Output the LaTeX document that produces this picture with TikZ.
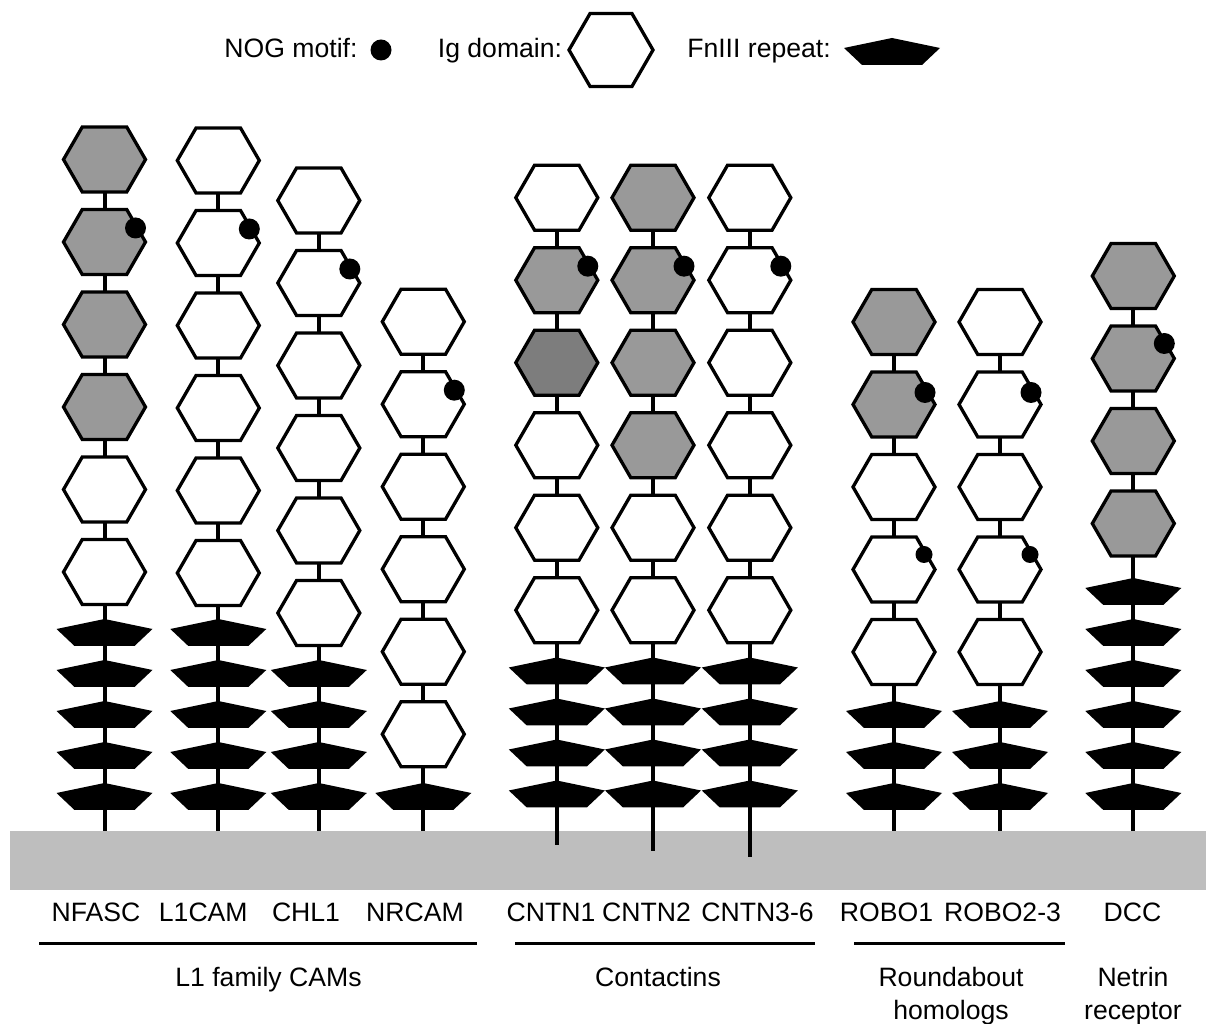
\documentclass[tikz,border=0pt]{standalone}
\usepackage{fontspec}
\setmainfont{Liberation Sans}
\usetikzlibrary{positioning,shapes.symbols,backgrounds}
\definecolor{hexgray}{RGB}{153,153,153}
\definecolor{hexdark}{RGB}{125,125,125}
\definecolor{memgray}{RGB}{190,190,190}

\begin{document}
\begin{tikzpicture}[x=1pt, y=1pt, node distance=17.5pt,
        IG/.style={signal, signal to=west and east, signal pointer angle=120, draw=black, line width=3.3pt, fill=white, minimum width=82pt, minimum height=65pt, inner sep=0pt, outer sep=0pt},
        IGG/.style={IG, fill=hexgray},
        IGD/.style={IG, fill=hexdark},
        NOG/.style={circle, fill=black, inner sep=0pt, minimum size=21pt},
        NOGS/.style={NOG, minimum size=17pt},
        FN/.pic={\fill (0,10) -- (48,0) -- (30,-17) -- (-30,-17) -- (-48,0) -- cycle;},
        STEM/.style={line width=4pt},
        LBL/.style={font=\fontsize{26.6}{33}\selectfont, inner sep=0pt, anchor=base, align=center},
        GRP/.style={line width=3pt},
    ]
    \useasboundingbox (0,0) rectangle (1206,1024);

    % legend
    \node[LBL] (keyNog) at (291,966) {NOG motif:};
    \node[NOG] (keyDot) at (381,974) {};
    \node[LBL] (keyIg) at (500,966) {Ig domain:};
    \node[IG, minimum width=84pt, minimum height=73pt] (keyHex) at (611,974) {};
    \node[LBL] (keyFn) at (759,966) {FnIII repeat:};
    \pic at (892,976) {FN};

    % L1 family CAMs
    \node[IGG] (nf1) at (104.5,864.5) {};
    \node[IGG, below=of nf1] (nf2) {};
    \node[IGG, below=of nf2] (nf3) {};
    \node[IGG, below=of nf3] (nf4) {};
    \node[IG, below=of nf4] (nf5) {};
    \node[IG, below=of nf5] (nf6) {};
    \node[NOG] (nfDot) at ([shift={(31,14)}]nf2.center) {};

    \node[IG] (lc1) at (218.3,863.5) {};
    \node[IG, below=of lc1] (lc2) {};
    \node[IG, below=of lc2] (lc3) {};
    \node[IG, below=of lc3] (lc4) {};
    \node[IG, below=of lc4] (lc5) {};
    \node[IG, below=of lc5] (lc6) {};
    \node[NOG] (lcDot) at ([shift={(31,14)}]lc2.center) {};

    \node[IG] (ch1) at (318.8,823.5) {};
    \node[IG, below=of ch1] (ch2) {};
    \node[IG, below=of ch2] (ch3) {};
    \node[IG, below=of ch3] (ch4) {};
    \node[IG, below=of ch4] (ch5) {};
    \node[IG, below=of ch5] (ch6) {};
    \node[NOG] (chDot) at ([shift={(31,14)}]ch2.center) {};

    \node[IG] (nr1) at (423.3,702.3) {};
    \node[IG, below=of nr1] (nr2) {};
    \node[IG, below=of nr2] (nr3) {};
    \node[IG, below=of nr3] (nr4) {};
    \node[IG, below=of nr4] (nr5) {};
    \node[IG, below=of nr5] (nr6) {};
    \node[NOG] (nrDot) at ([shift={(31,14)}]nr2.center) {};

    \pic at (104.5,395) {FN}; \pic at (104.5,354) {FN}; \pic at (104.5,313) {FN}; \pic at (104.5,272) {FN}; \pic at (104.5,231) {FN};
    \pic at (218.3,395) {FN}; \pic at (218.3,354) {FN}; \pic at (218.3,313) {FN}; \pic at (218.3,272) {FN}; \pic at (218.3,231) {FN};
    \pic at (318.8,354) {FN}; \pic at (318.8,313) {FN}; \pic at (318.8,272) {FN}; \pic at (318.8,231) {FN};
    \pic at (423.3,231) {FN};

    % Contactins
    \node[IG] (ca1) at (556.8,826.3) {};
    \node[IGG, below=of ca1] (ca2) {};
    \node[IGD, below=of ca2] (ca3) {};
    \node[IG, below=of ca3] (ca4) {};
    \node[IG, below=of ca4] (ca5) {};
    \node[IG, below=of ca5] (ca6) {};
    \node[NOG] (caDot) at ([shift={(31,14)}]ca2.center) {};

    \node[IGG] (cb1) at (653,826.3) {};
    \node[IGG, below=of cb1] (cb2) {};
    \node[IGG, below=of cb2] (cb3) {};
    \node[IGG, below=of cb3] (cb4) {};
    \node[IG, below=of cb4] (cb5) {};
    \node[IG, below=of cb5] (cb6) {};
    \node[NOG] (cbDot) at ([shift={(31,14)}]cb2.center) {};

    \node[IG] (cc1) at (749.8,826.3) {};
    \node[IG, below=of cc1] (cc2) {};
    \node[IG, below=of cc2] (cc3) {};
    \node[IG, below=of cc3] (cc4) {};
    \node[IG, below=of cc4] (cc5) {};
    \node[IG, below=of cc5] (cc6) {};
    \node[NOG] (ccDot) at ([shift={(31,14)}]cc2.center) {};

    \pic at (556.8,356.5) {FN}; \pic at (556.8,315.5) {FN}; \pic at (556.8,274.5) {FN}; \pic at (556.8,233.5) {FN};
    \pic at (653,356.5) {FN}; \pic at (653,315.5) {FN}; \pic at (653,274.5) {FN}; \pic at (653,233.5) {FN};
    \pic at (749.8,356.5) {FN}; \pic at (749.8,315.5) {FN}; \pic at (749.8,274.5) {FN}; \pic at (749.8,233.5) {FN};

    % Roundabout homologs
    \node[IGG] (ra1) at (894,702) {};
    \node[IGG, below=of ra1] (ra2) {};
    \node[IG, below=of ra2] (ra3) {};
    \node[IG, below=of ra3] (ra4) {};
    \node[IG, below=of ra4] (ra5) {};
    \node[NOG] (raDot) at ([shift={(31,12)}]ra2.center) {};
    \node[NOGS] (raDotB) at ([shift={(30,15)}]ra4.center) {};

    \node[IG] (rb1) at (1000,702) {};
    \node[IG, below=of rb1] (rb2) {};
    \node[IG, below=of rb2] (rb3) {};
    \node[IG, below=of rb3] (rb4) {};
    \node[IG, below=of rb4] (rb5) {};
    \node[NOG] (rbDot) at ([shift={(31,12)}]rb2.center) {};
    \node[NOGS] (rbDotB) at ([shift={(30,15)}]rb4.center) {};

    \pic at (894,313) {FN}; \pic at (894,272) {FN}; \pic at (894,231) {FN};
    \pic at (1000,313) {FN}; \pic at (1000,272) {FN}; \pic at (1000,231) {FN};

    % Netrin receptor
    \node[IGG] (dc1) at (1133.3,748) {};
    \node[IGG, below=of dc1] (dc2) {};
    \node[IGG, below=of dc2] (dc3) {};
    \node[IGG, below=of dc3] (dc4) {};
    \node[NOG] (dcDot) at ([shift={(31,15)}]dc2.center) {};

    \pic at (1133.3,436) {FN}; \pic at (1133.3,395) {FN}; \pic at (1133.3,354) {FN};
    \pic at (1133.3,313) {FN}; \pic at (1133.3,272) {FN}; \pic at (1133.3,231) {FN};

    % membrane and stems
    \begin{scope}[on background layer]
        \node[fill=memgray, minimum width=1196pt, minimum height=59pt, inner sep=0pt, anchor=south west] (mem) at (10,134) {};
        \draw[STEM] (nf1.center) -- (nf1.center |- mem.north);
        \draw[STEM] (lc1.center) -- (lc1.center |- mem.north);
        \draw[STEM] (ch1.center) -- (ch1.center |- mem.north);
        \draw[STEM] (nr1.center) -- (nr1.center |- mem.north);
        \draw[STEM] (ca1.center) -- ([yshift=-14pt]ca1.center |- mem.north);
        \draw[STEM] (cb1.center) -- ([yshift=-20pt]cb1.center |- mem.north);
        \draw[STEM] (cc1.center) -- ([yshift=-26pt]cc1.center |- mem.north);
        \draw[STEM] (ra1.center) -- (ra1.center |- mem.north);
        \draw[STEM] (rb1.center) -- (rb1.center |- mem.north);
        \draw[STEM] (dc1.center) -- (dc1.center |- mem.north);
    \end{scope}

    % names
    \node[LBL] (lNf) at (96,102.3) {NFASC};
    \node[LBL] (lLc) at (203.3,102.3) {L1CAM};
    \node[LBL] (lCh) at (306,102.3) {CHL1};
    \node[LBL] (lNr) at (415,102.3) {NRCAM};
    \node[LBL] (lCa) at (551,102.3) {CNTN1};
    \node[LBL] (lCb) at (646.5,102.3) {CNTN2};
    \node[LBL] (lCc) at (757.5,102.3) {CNTN3-6};
    \node[LBL] (lRa) at (886.5,102.3) {ROBO1};
    \node[LBL] (lRb) at (1002.5,102.3) {ROBO2-3};
    \node[LBL] (lDc) at (1132.5,102.3) {DCC};

    \draw[GRP] (39,80.7) -- (477,80.7);
    \draw[GRP] (515,80.7) -- (815,80.7);
    \draw[GRP] (854,80.7) -- (1065,80.7);
    \node[LBL] (gL1) at (268.5,37.3) {L1 family CAMs};
    \node[LBL] (gCn) at (658,37.3) {Contactins};
    \node[LBL] (gRo) at (951,4.3) {Roundabout\\homologs};
    \node[LBL] (gNe) at (1133,4.3) {Netrin\\receptor};

\end{tikzpicture}
\end{document}
